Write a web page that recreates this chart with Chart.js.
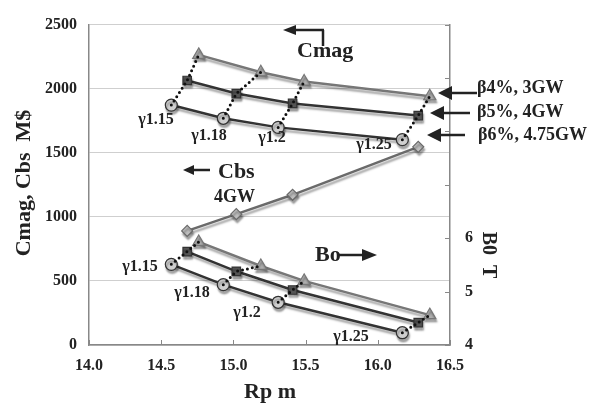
<!DOCTYPE html>
<html>
<head>
<meta charset="utf-8">
<script src="https://cdn.jsdelivr.net/npm/chart.js@4/dist/chart.umd.min.js"></script>
<style>
  body { margin: 0; background: #fff; }
  #c { display: block; }
</style>
</head>
<body>
<canvas id="c" width="593" height="405"></canvas>
<script>
// Rp (m) for each beta case, points are gamma 1.15, 1.18, 1.2, 1.25
const gammas = ['γ1.15', 'γ1.18', 'γ1.2', 'γ1.25'];
const rpB4 = [14.76, 15.19, 15.49, 16.36];
const rpB5 = [14.68, 15.02, 15.41, 16.28];
const rpB6 = [14.57, 14.93, 15.31, 16.17];
// Cmag M$
const cmagB4 = [2264, 2128, 2056, 1941];
const cmagB5 = [2064, 1962, 1885, 1790];
const cmagB6 = [1872, 1769, 1698, 1602];
// Cbs M$ (4GW)
const cbs4GW = [890, 1021, 1172, 1546];
// B0 T
const b0B4 = [5.93, 5.48, 5.20, 4.56];
const b0B5 = [5.75, 5.38, 5.03, 4.42];
const b0B6 = [5.51, 5.13, 4.80, 4.23];
const xTicks = [14.0, 14.5, 15.0, 15.5, 16.0, 16.5];
const b0Labels = [4, 5, 6];

const FONT = '"Liberation Serif", "DejaVu Serif", serif';
const pts = (xs, ys) => xs.map((x, i) => ({ x: x, y: ys[i] }));

// dotted lines joining the same gamma across beta cases
const dotted = [];
gammas.forEach((g, i) => {
  dotted.push({
    data: [{ x: rpB6[i], y: cmagB6[i] }, { x: rpB5[i], y: cmagB5[i] }, { x: rpB4[i], y: cmagB4[i] }],
    yAxisID: 'y'
  });
  dotted.push({
    data: [{ x: rpB6[i], y: b0B6[i] }, { x: rpB5[i], y: b0B5[i] }, { x: rpB4[i], y: b0B4[i] }],
    yAxisID: 'y1'
  });
});
const dottedSets = dotted.map(d => ({
  data: d.data, yAxisID: d.yAxisID, showLine: true,
  borderColor: '#111', borderWidth: 3, borderDash: [0, 5], borderCapStyle: 'round',
  pointRadius: 0, fill: false
}));

function series(data, axis, color, fillC, style, r) {
  return {
    data: data, yAxisID: axis, showLine: true, shadow: true,
    borderColor: color, borderWidth: 2.5,
    pointStyle: style, pointRadius: r, pointBackgroundColor: fillC,
    pointBorderColor: color, pointBorderWidth: 1.2, fill: false
  };
}

const datasets = dottedSets.concat([
  series(pts(rpB4, cmagB4), 'y', '#777', '#b0b0b0', 'triangle', 7),
  series(pts(rpB5, cmagB5), 'y', '#333', '#555', 'rect', 6),
  series(pts(rpB6, cmagB6), 'y', '#333', '#cfcfcf', 'circle', 6),
  series(pts(rpB5, cbs4GW), 'y', '#6a6a6a', '#bdbdbd', 'rectRot', 5.5),
  series(pts(rpB4, b0B4), 'y1', '#777', '#b0b0b0', 'triangle', 7),
  series(pts(rpB5, b0B5), 'y1', '#333', '#555', 'rect', 6),
  series(pts(rpB6, b0B6), 'y1', '#333', '#cfcfcf', 'circle', 6)
]);

const shadowPlugin = {
  id: 'shadow',
  beforeDatasetDraw(chart, args) {
    const ctx = chart.ctx;
    ctx.save();
    if (chart.data.datasets[args.index].shadow) {
      ctx.shadowColor = 'rgba(0,0,0,0.35)';
      ctx.shadowOffsetX = 1;
      ctx.shadowOffsetY = 3;
      ctx.shadowBlur = 2;
    }
  },
  afterDatasetDraw(chart) { chart.ctx.restore(); }
};

function arrow(ctx, x1, y, x2, headLen, half) {
  // line from x1 to tip x2 (horizontal)
  const dir = x2 > x1 ? 1 : -1;
  ctx.beginPath();
  ctx.moveTo(x1, y);
  ctx.lineTo(x2 - dir * headLen, y);
  ctx.stroke();
  ctx.beginPath();
  ctx.moveTo(x2, y);
  ctx.lineTo(x2 - dir * headLen, y - half);
  ctx.lineTo(x2 - dir * headLen, y + half);
  ctx.closePath();
  ctx.fill();
}

const notesPlugin = {
  id: 'notes',
  afterDraw(chart) {
    const ctx = chart.ctx;
    const xs = chart.scales.x, y1 = chart.scales.y1;
    const area = chart.chartArea;
    ctx.save();
    // inward tick marks
    ctx.strokeStyle = '#888';
    ctx.lineWidth = 1;
    xTicks.forEach(v => {
      const px = Math.round(xs.getPixelForValue(v)) + 0.5;
      ctx.beginPath(); ctx.moveTo(px, area.bottom); ctx.lineTo(px, area.bottom - 5); ctx.stroke();
    });
    for (let v = 4; v <= 10; v++) {
      const py = Math.round(y1.getPixelForValue(v)) + 0.5;
      ctx.beginPath(); ctx.moveTo(area.right, py); ctx.lineTo(area.right - 5, py); ctx.stroke();
    }

    ctx.fillStyle = '#222';
    ctx.strokeStyle = '#222';
    ctx.textBaseline = 'middle';

    // gamma labels
    ctx.font = 'bold 16px ' + FONT;
    ctx.textAlign = 'center';
    [[156, 120], [209, 136], [272, 138], [374, 145]].forEach((p, i) => ctx.fillText(gammas[i], p[0], p[1]));
    [[140, 267], [192, 293], [247, 313], [351, 337]].forEach((p, i) => ctx.fillText(gammas[i], p[0], p[1]));

    // series notes
    ctx.textAlign = 'left';
    ctx.font = 'bold 22px ' + FONT;
    ctx.fillText('Cmag', 297, 51);
    ctx.fillText('Cbs', 218, 172);
    ctx.fillText('Bo', 315, 255);
    ctx.font = 'bold 18px ' + FONT;
    ctx.fillText('4GW', 214, 197);
    ctx.fillText('β4%, 3GW', 477, 88);
    ctx.fillText('β5%, 4GW', 477, 112);
    ctx.fillText('β6%, 4.75GW', 478, 135);

    ctx.lineWidth = 2.5;
    // Cmag bracket arrow
    ctx.beginPath(); ctx.moveTo(323, 46); ctx.lineTo(323, 30); ctx.stroke();
    arrow(ctx, 324, 30, 283, 13, 5);
    arrow(ctx, 210, 170, 183, 11, 5);
    arrow(ctx, 339, 255, 377, 15, 6);
    arrow(ctx, 477, 93, 438, 14, 7);
    arrow(ctx, 470, 113, 430, 14, 7);
    arrow(ctx, 465, 135, 427, 14, 7);

    // axis titles
    ctx.textAlign = 'center';
    ctx.font = 'bold 22px ' + FONT;
    ctx.fillText('Rp m', 270, 392);
    ctx.save();
    ctx.translate(24, 183);
    ctx.rotate(-Math.PI / 2);
    ctx.fillText('Cmag, Cbs  M$', 0, 0);
    ctx.restore();
    ctx.save();
    ctx.translate(488, 255);
    ctx.rotate(Math.PI / 2);
    ctx.font = 'bold 20px ' + FONT;
    ctx.fillText('B0  T', 0, 0);
    ctx.restore();
    ctx.restore();
  }
};

new Chart(document.getElementById('c'), {
  type: 'scatter',
  data: { datasets: datasets },
  options: {
    responsive: false,
    animation: false,
    layout: { padding: { top: 20, left: 0, right: 0, bottom: 0 } },
    plugins: { legend: { display: false }, tooltip: { enabled: false } },
    scales: {
      x: {
        type: 'linear', min: 14, max: 16.5,
        afterBuildTicks: s => { s.ticks = xTicks.map(v => ({ value: v })); },
        afterFit: s => { s.height = 60; },
        ticks: { color: '#222', font: { family: FONT, size: 16, weight: 'bold' }, padding: 11,
                 callback: v => Number(v).toFixed(1), maxRotation: 0 },
        grid: { display: true, drawOnChartArea: false, drawTicks: false },
        border: { color: '#888', width: 1.5 }
      },
      y: {
        position: 'left', min: 0, max: 2500,
        ticks: { stepSize: 500, color: '#222', font: { family: FONT, size: 16, weight: 'bold' }, padding: 12,
                 callback: v => String(v) },
        afterFit: s => { s.width = 89; },
        grid: { color: '#cfcfcf', drawTicks: false },
        border: { color: '#888', width: 1.5 }
      },
      y1: {
        position: 'right', min: 4, max: 10,
        ticks: { stepSize: 1, color: '#222', font: { family: FONT, size: 16, weight: 'bold' }, padding: 15,
                 callback: v => b0Labels.includes(v) ? String(v) : '' },
        afterFit: s => { s.width = 143; },
        grid: { display: true, drawOnChartArea: false, drawTicks: false },
        border: { color: '#888', width: 1.5 }
      }
    }
  },
  plugins: [shadowPlugin, notesPlugin]
});
</script>
</body>
</html>
